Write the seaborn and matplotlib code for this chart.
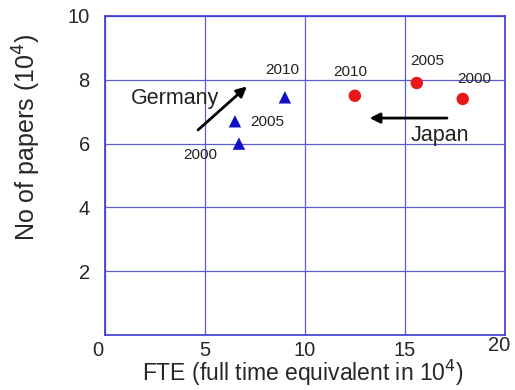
import matplotlib
matplotlib.use("Agg")
import matplotlib.pyplot as plt
import matplotlib.transforms as mtransforms
import seaborn as sns
import pandas as pd

# FTE researchers (10^4) and papers (10^4) by country and year
germany_fte = [6.7, 6.5, 9.0]
germany_papers = [6.0, 6.7, 7.45]
japan_fte = [17.9, 15.6, 12.5]
japan_papers = [7.4, 7.9, 7.5]
years = ["2000", "2005", "2010"]

df = pd.DataFrame({
    "fte": germany_fte + japan_fte,
    "papers": germany_papers + japan_papers,
    "country": ["Germany"] * 3 + ["Japan"] * 3,
    "year": years + years,
})

sns.set_style("white")
plt.rcParams["font.family"] = ["Liberation Sans", "DejaVu Sans"]

fig = plt.figure(figsize=(5.15, 3.9), dpi=100)
ax = fig.add_axes([0.204, 0.141, 0.776, 0.818])

grid_col = "#5a5ad8"
ax.set_xlim(0, 20)
ax.set_ylim(0, 10)
ax.set_xticks([0, 5, 10, 15, 20])
ax.set_yticks([2, 4, 6, 8, 10])
ax.grid(True, color=grid_col, linewidth=0.9)
ax.set_axisbelow(True)
for s in ax.spines.values():
    s.set_color("#3a3ad0")
    s.set_linewidth(1.2)
ax.tick_params(direction="in", length=4, color="#3a3ad0", labelsize=14.5)
ax.tick_params(axis="y", pad=11)
ax.tick_params(axis="x", pad=4)

sns.scatterplot(
    data=df, x="fte", y="papers", hue="country", style="country",
    palette={"Germany": "#1010c8", "Japan": "#e81818"},
    markers={"Germany": "^", "Japan": "o"},
    s=80, edgecolor="none", legend=False, ax=ax, zorder=3,
)

# year labels next to each point
label_pos = {
    ("Germany", "2000"): (4.75, 5.65),
    ("Germany", "2005"): (8.1, 6.67),
    ("Germany", "2010"): (8.85, 8.3),
    ("Japan", "2000"): (18.5, 8.02),
    ("Japan", "2005"): (16.1, 8.6),
    ("Japan", "2010"): (12.25, 8.23),
}
for (c, y), (lx, ly) in label_pos.items():
    ax.text(lx, ly, y, fontsize=11, ha="center", va="center", color="#222222")

# trend arrows
ax.annotate("", xy=(7.2, 7.85), xytext=(4.55, 6.37),
            arrowprops=dict(arrowstyle="-|>", color="black", lw=2, mutation_scale=15))
ax.annotate("", xy=(13.1, 6.8), xytext=(17.25, 6.8),
            arrowprops=dict(arrowstyle="-|>", color="black", lw=2, mutation_scale=15))
ax.text(3.5, 7.4, "Germany", fontsize=15.5, ha="center", va="center", color="#222222")
ax.text(16.75, 6.25, "Japan", fontsize=15.5, ha="center", va="center", color="#222222")

ax.set_xlabel("FTE (full time equivalent in 10$^4$)", fontsize=16.5)
ax.xaxis.set_label_coords(0.495, -0.072)
ax.set_ylabel("No of papers (10$^4$)", fontsize=18)
ax.yaxis.set_label_coords(-0.155, 0.62)

# end tick labels sit slightly offset from the others
fig.canvas.draw()
xlabels = ax.get_xticklabels()
xlabels[0].set_transform(xlabels[0].get_transform() +
                         mtransforms.ScaledTranslation(-7 / 100, 0, fig.dpi_scale_trans))
xlabels[-1].set_transform(xlabels[-1].get_transform() +
                          mtransforms.ScaledTranslation(-6 / 100, 5 / 100, fig.dpi_scale_trans))

fig.savefig("out.png", dpi=100)
